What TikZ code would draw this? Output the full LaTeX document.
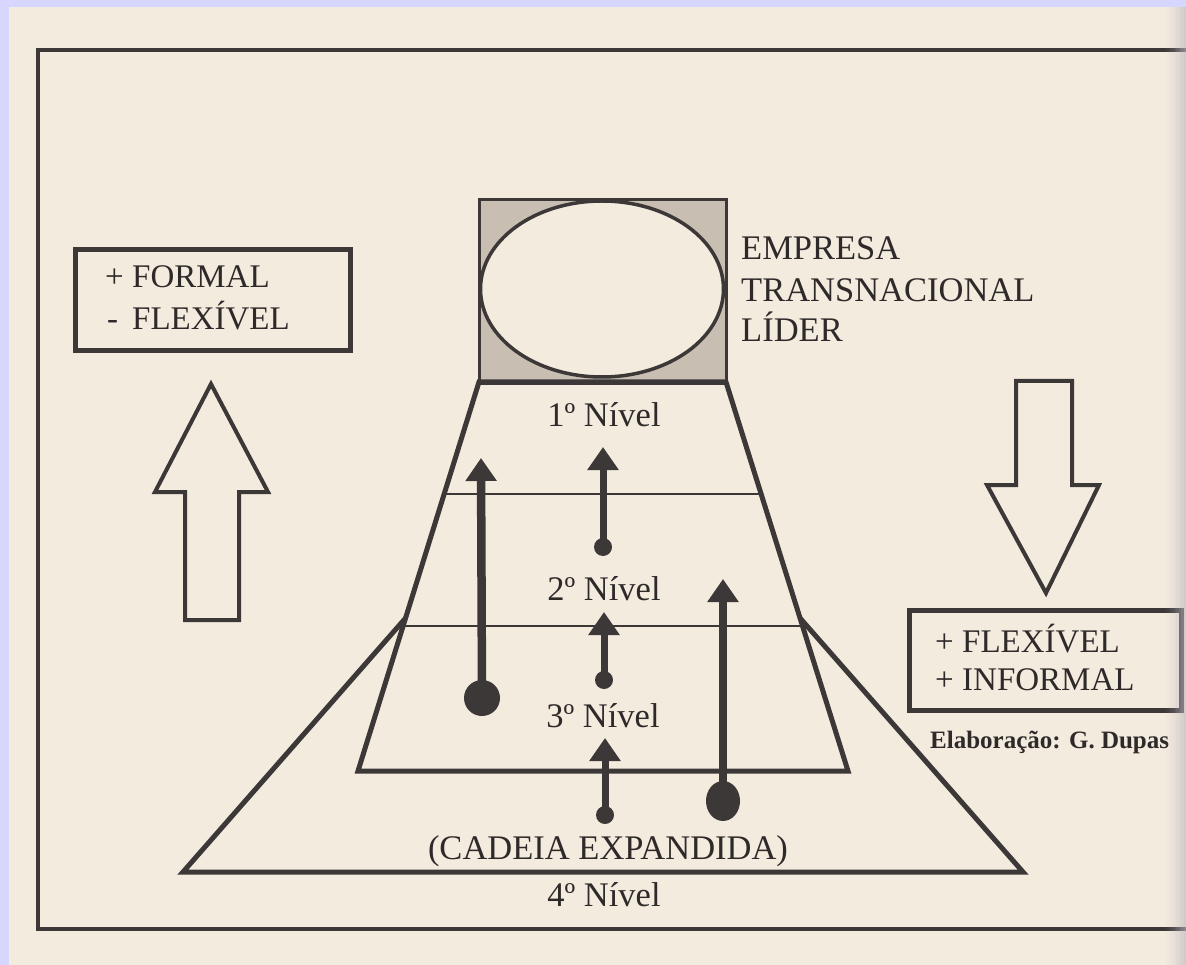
\documentclass[tikz,border=0pt]{standalone}
\usepackage{fontspec}
\setmainfont{Liberation Serif}
\usetikzlibrary{arrows.meta,shapes.geometric,calc}
\definecolor{paper}{HTML}{F3EBDE}
\definecolor{ink}{HTML}{3D3838}
\definecolor{textink}{HTML}{2E2A2A}
\definecolor{boxgray}{HTML}{C8BEB2}
\definecolor{lav}{HTML}{D6D6FE}
\definecolor{edgeshade}{HTML}{BDB8C2}
\begin{document}
\begin{tikzpicture}[x=1pt,y=-1pt,
  lbl/.style={text=textink,font=\fontsize{34.5}{40}\selectfont,inner sep=0pt},
  boxlbl/.style={text=textink,font=\fontsize{33}{40}\selectfont,inner sep=0pt},
  small/.style={text=textink,font=\fontsize{25}{30}\selectfont\bfseries,inner sep=0pt},
  frameline/.style={draw=ink,line width=3.5pt},
  heavy/.style={draw=ink,line width=5pt,line join=miter},
  thinline/.style={draw=ink,line width=2pt},
  blockarrow/.style={draw=ink,line width=4pt,line join=miter},
  textbox/.style={draw=ink,line width=5pt,inner sep=0pt,anchor=north west},
  bigdot/.style={circle,fill=ink,inner sep=0pt,minimum size=36pt},
  smalldot/.style={circle,fill=ink,inner sep=0pt,minimum size=18pt},
  longshaft/.style={draw=ink,line width=8.5pt,-{Triangle[length=23pt,width=30pt]}},
  shortshaft/.style={draw=ink,line width=7pt,-{Triangle[length=23pt,width=30pt]}}]
\useasboundingbox (0,0) rectangle (1186,965);
\fill[paper] (0,0) rectangle (1186,965);
\fill[lav] (0,0) rectangle (1186,7);
\fill[lav] (0,0) rectangle (9,965);
% outer frame
\draw[frameline] (1186,50) -- (38,50) -- (38,929) -- (1186,929);
% leading company
\node[draw=ink,line width=3pt,fill=boxgray,inner sep=0pt,minimum width=247pt,minimum height=184pt,anchor=north west] (lead) at (478,198) {};
\node[ellipse,draw=ink,line width=3.5pt,fill=paper,inner sep=0pt,minimum width=243pt,minimum height=176pt] (oval) at (602,289) {};
% upper trapezoid
\coordinate (tl) at (479,382);
\coordinate (tr) at (726,382);
\coordinate (bl) at (358,771);
\coordinate (br) at (848,771);
\draw[heavy] (tl) -- (bl) -- (br) -- (tr) -- cycle;
\draw[thinline] ($(tl)!0.288!(bl)$) -- ($(tr)!0.288!(br)$);
\draw[thinline] ($(tl)!0.627!(bl)$) -- ($(tr)!0.627!(br)$);
% lower triangle (expanded chain)
\coordinate (ll) at (183,872);
\coordinate (lr) at (1023,872);
\draw[heavy] ($(tl)!0.607!(bl)$) -- (ll) -- (lr) -- ($(tr)!0.607!(br)$);
% arrows inside
\node[bigdot] (d1) at (482,698) {};
\coordinate (t1) at (481,458);
\draw[longshaft] (d1.center) -- (t1);
\node[smalldot] (d2) at (603,547) {};
\coordinate (t2) at (603,447);
\draw[shortshaft] (d2.center) -- (t2);
\node[smalldot] (d3) at (604,680) {};
\coordinate (t3) at (604,612);
\draw[shortshaft] (d3.center) -- (t3);
\node[bigdot,ellipse,minimum width=34pt,minimum height=40pt] (d4) at (723,801) {};
\coordinate (t4) at (723,579);
\draw[longshaft] (d4.center) -- (t4);
\node[smalldot] (d5) at (605,815) {};
\coordinate (t5) at (605,738);
\draw[shortshaft] (d5.center) -- (t5);
% block arrows
\draw[blockarrow] (211,384) -- (268,492) -- (239,492) -- (239,620) -- (185,620) -- (185,492) -- (155,492) -- cycle;
\draw[blockarrow] (1016,381) -- (1072,381) -- (1072,485) -- (1099,485) -- (1046,593) -- (987,485) -- (1016,485) -- cycle;
% texts
\node[lbl,anchor=base west] (emp) at (741,260) {EMPRESA};
\node[lbl,anchor=base west] (tra) at (741,302) {TRANSNACIONAL};
\node[lbl,anchor=base west] (lid) at (741,342) {LÍDER};
\node[lbl,anchor=base] (n1) at (604,427) {1º Nível};
\node[lbl,anchor=base] (n2) at (604,600) {2º Nível};
\node[lbl,anchor=base] (n3) at (603,727) {3º Nível};
\node[lbl,anchor=base] (cad) at (608,859) {(CADEIA EXPANDIDA)};
\node[lbl,anchor=base] (n4) at (604,906) {4º Nível};
% side boxes
\node[textbox,minimum width=275pt,minimum height=101pt] (lbox) at (73,247) {};
\node[boxlbl,anchor=base west] (lb1) at (105,288) {\makebox[27pt][l]{+}FORMAL};
\node[boxlbl,anchor=base west] (lb2) at (107,330) {\makebox[25pt][l]{-}FLEXÍVEL};
\node[textbox,minimum width=272pt,minimum height=100pt] (rbox) at (907,608) {};
\node[boxlbl,anchor=base west] (rb1) at (935,652) {\makebox[27pt][l]{+}FLEXÍVEL};
\node[boxlbl,anchor=base west] (rb2) at (935,690) {\makebox[27pt][l]{+}INFORMAL};
\node[small,anchor=base west] (elab) at (930,748) {Elaboração: G. Dupas};
% page edge shadow
\foreach \i/\o in {0/0.05,1/0.1,2/0.16,3/0.24,4/0.33,5/0.43,6/0.53,7/0.62}{
  \fill[edgeshade,opacity=\o] (1166+2.5*\i,7) rectangle (1168.5+2.5*\i,965);
}
\end{tikzpicture}
\end{document}
